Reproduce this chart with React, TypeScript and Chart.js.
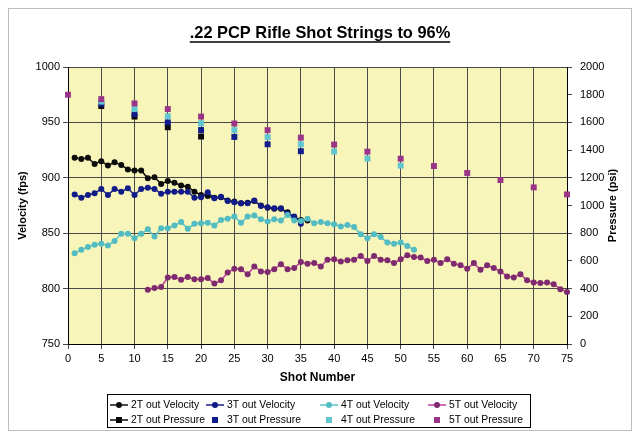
import { useEffect, useRef } from 'react';
import { Chart, registerables } from 'chart.js';

Chart.register(...registerables);

const FONT = 'Arial, "Liberation Sans", sans-serif';

const chartTitle = '.22 PCP Rifle Shot Strings to 96%';
const xTitle = 'Shot Number';
const yTitle = 'Velocity (fps)';
const y2Title = 'Pressure (psi)';

// velocity strings (fps), one value per shot starting at the given shot
const vel2TStart = 1;
const vel2T = [
  918, 917, 918, 912.5, 915, 911, 914, 911.5, 907.5, 906.5, 906.5, 899.5, 900.5, 894.5, 897, 895.5, 893, 892,
  887.5, 884.5, 883.5, 882, 882.5, 879.5, 878.5, 877, 877.5, 879, 875, 873, 872, 872, 869, 864, 862, 861.5,
];

const vel3TStart = 1;
const vel3T = [
  885, 882, 884.5, 886, 890, 884.5, 890, 887.5, 890.5, 884.5, 890, 891, 890, 885.5, 887.5, 887.5, 887.5, 887.5,
  882, 882.5, 887, 881.5, 883, 879, 878, 877, 877, 879.5, 874.5, 873.5, 872.5, 872.5, 867.5, 865, 858.5,
];

const vel4TStart = 1;
const vel4T = [
  832, 835, 837.5, 839.5, 840.5, 839, 843, 849.5, 849.5, 845.5, 849.5, 853.5, 847, 854.5, 854.5, 857, 860, 854,
  858.5, 859, 859.5, 857, 862, 863, 865, 859.5, 865, 866, 862.5, 860.5, 862.5, 861.5, 866.5, 861.5, 861, 863,
  859, 860, 859, 858, 856, 857.5, 855.5, 849, 845.5, 849, 846.5, 841.5, 840.5, 841.5, 838.5, 835,
];

const vel5TStart = 12;
const vel5T = [
  799, 800.5, 801.5, 810, 810.5, 808, 810.5, 808.5, 808.5, 809.5, 804.5, 807.5, 814.5, 818, 817.5, 813, 820,
  815.5, 815, 817.5, 822, 817.5, 818.5, 824, 822.5, 823, 820, 826, 826.5, 824.5, 825.5, 826, 829.5, 825, 829.5,
  826, 825.5, 823, 826.5, 830, 828.5, 828, 825, 826, 823, 826.5, 822.5, 821, 818, 823, 817, 821, 818.5, 815.5,
  811, 810, 813, 807.5, 805.5, 805, 805.5, 804, 799.5, 797,
];

// tank pressure (psi) read at the given shots
const press2TShots = [5, 10, 15, 20];
const press2T = [1718, 1642, 1565, 1498];

const press3TShots = [5, 10, 15, 20, 25, 30, 35];
const press3T = [1735, 1660, 1600, 1545, 1495, 1442, 1392];

const press4TShots = [5, 10, 15, 20, 25, 30, 35, 40, 45, 50];
const press4T = [1750, 1696, 1644, 1594, 1544, 1494, 1442, 1390, 1339, 1288];

const press5TShots = [0, 5, 10, 15, 20, 25, 30, 35, 40, 45, 50, 55, 60, 65, 70, 75];
const press5T = [1800, 1768, 1737, 1696, 1642, 1592, 1544, 1490, 1440, 1389, 1338, 1285, 1235, 1184, 1131, 1080];

const seriesLabels = [
  '2T out Velocity',
  '3T out Velocity',
  '4T out Velocity',
  '5T out Velocity',
  '2T out Pressure',
  '3T out Pressure',
  '4T out Pressure',
  '5T out Pressure',
];

const velPoints = (start: number, values: number[]) => values.map((y, i) => ({ x: start + i, y }));
const pressPoints = (shots: number[], values: number[]) => values.map((y, i) => ({ x: shots[i], y }));

const velocityLine = (label: string, data: { x: number; y: number }[], line: string, dot: string) => ({
  label,
  data,
  yAxisID: 'y',
  borderColor: line,
  backgroundColor: dot,
  pointBackgroundColor: dot,
  pointBorderColor: dot,
  borderWidth: 1.5,
  pointRadius: 3,
  pointBorderWidth: 0,
  showLine: true,
  clip: false,
});

const pressureMarks = (label: string, data: { x: number; y: number }[], color: string, legendLine = false) => ({
  label,
  data,
  yAxisID: 'y2',
  borderColor: color,
  backgroundColor: color,
  pointBackgroundColor: color,
  pointBorderColor: color,
  pointStyle: 'rect',
  pointRadius: 4.2,
  pointBorderWidth: 0,
  showLine: false,
  clip: false,
  legendLine,
});

// Excel-style boxed legend, 4 columns x 2 rows
const legendCols = [102, 198, 312, 420];
const legendRows = [397, 412];

const framePlugin = {
  id: 'frame',
  beforeDraw(chart: any) {
    const { ctx, chartArea, width, height } = chart;
    ctx.save();
    ctx.fillStyle = '#ffffff';
    ctx.fillRect(0, 0, width, height);
    ctx.strokeStyle = '#bcbcbc';
    ctx.lineWidth = 1;
    ctx.strokeRect(0.5, 0.5, width - 1, height - 1);
    ctx.fillStyle = '#f8f5ba';
    ctx.fillRect(chartArea.left, chartArea.top, chartArea.right - chartArea.left, chartArea.bottom - chartArea.top);
    ctx.restore();
  },
  afterDraw(chart: any) {
    const { ctx, chartArea } = chart;
    ctx.save();
    ctx.fillStyle = '#000';
    ctx.strokeStyle = '#000';

    // title, bold and underlined
    ctx.font = `bold 16.4px ${FONT}`;
    ctx.textAlign = 'center';
    ctx.textBaseline = 'middle';
    const tx = chart.width / 2;
    const ty = 25;
    ctx.fillText(chartTitle, tx, ty);
    const tw = ctx.measureText(chartTitle).width;
    ctx.lineWidth = 1.3;
    ctx.beginPath();
    ctx.moveTo(tx - tw / 2, ty + 9);
    ctx.lineTo(tx + tw / 2, ty + 9);
    ctx.stroke();

    // right axis title
    ctx.font = `bold 11px ${FONT}`;
    ctx.save();
    ctx.translate(605, (chartArea.top + chartArea.bottom) / 2);
    ctx.rotate(-Math.PI / 2);
    ctx.fillText(y2Title, 0, 0);
    ctx.restore();

    // legend
    ctx.lineWidth = 1;
    ctx.strokeRect(99.5, 386.5, 423, 33);
    ctx.font = `10.4px ${FONT}`;
    ctx.textAlign = 'left';
    chart.data.datasets.forEach((ds: any, i: number) => {
      const x = legendCols[i % 4];
      const y = legendRows[Math.floor(i / 4)];
      if (ds.showLine || ds.legendLine) {
        ctx.strokeStyle = ds.borderColor;
        ctx.lineWidth = 1.5;
        ctx.beginPath();
        ctx.moveTo(x, y);
        ctx.lineTo(x + 18, y);
        ctx.stroke();
      }
      ctx.fillStyle = ds.pointBackgroundColor;
      if (ds.pointStyle === 'rect') {
        ctx.fillRect(x + 6, y - 3, 6, 6);
      } else {
        ctx.beginPath();
        ctx.arc(x + 9, y, 3, 0, Math.PI * 2);
        ctx.fill();
      }
      ctx.fillStyle = '#000';
      ctx.fillText(ds.label, x + 21, y + 0.5);
    });
    ctx.restore();
  },
};

const plainTick = (v: any) => String(v);

export default function App() {
  const canvasRef = useRef<HTMLCanvasElement | null>(null);

  useEffect(() => {
    if (!canvasRef.current) return;

    const datasets: any[] = [
      velocityLine(seriesLabels[0], velPoints(vel2TStart, vel2T), '#111111', '#0c0c0c'),
      velocityLine(seriesLabels[1], velPoints(vel3TStart, vel3T), '#17218a', '#121c88'),
      velocityLine(seriesLabels[2], velPoints(vel4TStart, vel4T), '#5cc3c6', '#52bcc2'),
      velocityLine(seriesLabels[3], velPoints(vel5TStart, vel5T), '#c03ca2', '#7e2a6e'),
      pressureMarks(seriesLabels[4], pressPoints(press2TShots, press2T), '#0a0a0a', true),
      pressureMarks(seriesLabels[5], pressPoints(press3TShots, press3T), '#101c8c'),
      pressureMarks(seriesLabels[6], pressPoints(press4TShots, press4T), '#62c6d0'),
      pressureMarks(seriesLabels[7], pressPoints(press5TShots, press5T), '#9a3488'),
    ];
    // later series sit on top, as in the spreadsheet
    datasets.forEach((ds, i) => (ds.order = datasets.length - i));

    const gridColor = '#4a4a4a';
    const tickFont = { family: FONT, size: 11 };

    const chart = new Chart(canvasRef.current, {
      type: 'line',
      data: { datasets },
      options: {
        animation: false,
        responsive: true,
        maintainAspectRatio: false,
        layout: { padding: { top: 59, bottom: 42, left: 0, right: 0 } },
        plugins: {
          legend: { display: false },
          tooltip: { enabled: false },
          title: { display: false },
        },
        scales: {
          x: {
            type: 'linear',
            min: 0,
            max: 75,
            ticks: { stepSize: 5, color: '#000', font: tickFont, padding: 3, maxRotation: 0, callback: plainTick },
            grid: { color: gridColor, tickLength: 5, lineWidth: 1 },
            border: { color: '#000' },
            title: {
              display: true,
              text: xTitle,
              color: '#000',
              font: { family: FONT, size: 12, weight: 'bold' },
              padding: { top: 4, bottom: 4 },
            },
            afterFit: (s: any) => {
              s.height = 45;
            },
          },
          y: {
            position: 'left',
            min: 750,
            max: 1000,
            ticks: { stepSize: 50, color: '#000', font: tickFont, padding: 3, callback: plainTick },
            grid: { color: gridColor, tickLength: 5, lineWidth: 1 },
            border: { color: '#000' },
            title: {
              display: true,
              text: yTitle,
              color: '#000',
              font: { family: FONT, size: 11, weight: 'bold' },
              padding: { top: 8, bottom: 0 },
            },
            afterFit: (s: any) => {
              s.width = 60;
            },
          },
          y2: {
            position: 'right',
            min: 0,
            max: 2000,
            ticks: { stepSize: 200, color: '#000', font: tickFont, padding: 8, callback: plainTick },
            grid: { color: gridColor, tickLength: 5, drawOnChartArea: false },
            border: { color: '#000' },
            afterFit: (s: any) => {
              s.width = 65;
            },
          },
        },
      },
      plugins: [framePlugin],
    } as any);

    return () => {
      chart.destroy();
    };
  }, []);

  return (
    <div style={{ position: 'relative', width: 624, height: 423 }}>
      <canvas ref={canvasRef} />
    </div>
  );
}
